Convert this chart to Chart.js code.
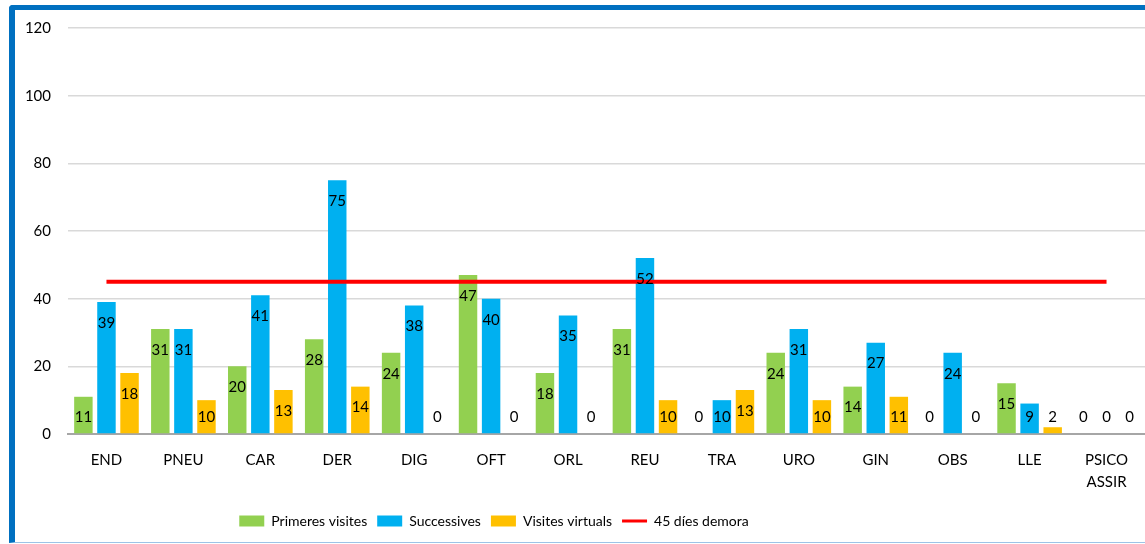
<!DOCTYPE html>
<html><head><meta charset="utf-8">
<script src="https://cdn.jsdelivr.net/npm/chart.js@4/dist/chart.umd.min.js"></script>
<style>
html,body{margin:0;padding:0;background:#fff;width:1145px;height:544px;overflow:hidden;}
#frame{position:absolute;left:9px;top:5px;width:1150px;height:532px;border-top:5px solid #0070c0;border-left:6px solid #0070c0;border-bottom:1px solid #9dc3e6;border-top-left-radius:4px;}
#wrap{position:absolute;left:15px;top:10px;width:1130px;height:532px;}
</style></head><body>
<div id="frame"></div>
<div id="wrap"><canvas id="c"></canvas></div>
<script>
const categories = ['END','PNEU','CAR','DER','DIG','OFT','ORL','REU','TRA','URO','GIN','OBS','LLE',['PSICO','ASSIR']];
const primeresVisites = [11,31,20,28,24,47,18,31,0,24,14,0,15,0];
const successives = [39,31,41,75,38,40,35,52,10,31,27,24,9,0];
const visitesVirtuals = [18,10,13,14,0,0,0,10,13,10,11,0,2,0];
const demora45 = [45,45,45,45,45,45,45,45,45,45,45,45,45,45];
const yTicks = [0,20,40,60,80,100,120];

const FONT = 'Lato';

const labelPlugin = {
  id:'barLabels',
  afterDatasetsDraw(chart){
    const ctx = chart.ctx;
    const base = chart.scales.y.getPixelForValue(0);
    ctx.save();
    ctx.font = '15px ' + FONT;
    ctx.fillStyle = '#000';
    ctx.textAlign = 'center';
    ctx.textBaseline = 'middle';
    chart.data.datasets.forEach((ds,i)=>{
      if (ds.type === 'line') return;
      const meta = chart.getDatasetMeta(i);
      meta.data.forEach((el,j)=>{
        const y = Math.min(el.y + 21, base - 17);
        ctx.fillText(String(ds.data[j]), el.x, y);
      });
    });
    ctx.restore();
  }
};

const legendShift = {
  id:'legendShift',
  afterLayout(chart){
    const lg = chart.legend;
    if (lg) { lg.left -= 86; lg.right -= 86; }
  }
};

new Chart(document.getElementById('c'), {
  data: {
    labels: categories,
    datasets: [
      {type:'line', label:'45 díes demora', data: demora45, borderColor:'#ff0000', backgroundColor:'#ff0000', borderWidth:4, pointRadius:0, order:0},
      {type:'bar', label:'Primeres visites', data: primeresVisites, backgroundColor:'#92d050', order:1},
      {type:'bar', label:'Successives', data: successives, backgroundColor:'#00b0f0', order:1},
      {type:'bar', label:'Visites virtuals', data: visitesVirtuals, backgroundColor:'#ffc000', order:1}
    ]
  },
  options: {
    responsive:true, maintainAspectRatio:false, animation:false,
    layout:{padding:{top:18,right:0,bottom:4,left:0}},
    datasets:{bar:{categoryPercentage:0.9, barPercentage:0.8}},
    plugins:{
      tooltip:{enabled:false},
      legend:{
        position:'bottom',
        labels:{
          font:{family:FONT,size:14}, color:'#000',
          usePointStyle:true, pointStyleWidth:25, boxHeight:11, padding:10,
          generateLabels(chart){
            const order = [1,2,3,0];
            return order.map(i=>{
              const ds = chart.data.datasets[i];
              const isLine = ds.type==='line';
              return {
                text: ds.label, datasetIndex:i,
                fillStyle: ds.backgroundColor,
                strokeStyle: isLine ? ds.borderColor : ds.backgroundColor,
                lineWidth: isLine ? 3 : 0,
                pointStyle: isLine ? 'line' : 'rect',
                fontColor:'#000', hidden:false
              };
            });
          }
        }
      }
    },
    scales:{
      x:{
        grid:{display:false, drawTicks:false},
        border:{display:true, color:'#a6a6a6', width:2},
        ticks:{font:{family:FONT,size:15,lineHeight:1.47}, color:'#000', padding:15, maxRotation:0, autoSkip:false},
        afterFit(s){ s.height = 70; }
      },
      y:{
        min:0, max:120,
        afterBuildTicks(s){ s.ticks = yTicks.map(v=>({value:v})); },
        grid:{color:'#d9d9d9', lineWidth:1.5, drawTicks:false},
        border:{display:false},
        ticks:{font:{family:FONT,size:15}, color:'#000', padding:17},
        afterFit(s){ s.width = 53; s.paddingTop = 0; s.paddingBottom = 0; }
      }
    }
  },
  plugins:[labelPlugin, legendShift]
});
</script>
</body></html>
